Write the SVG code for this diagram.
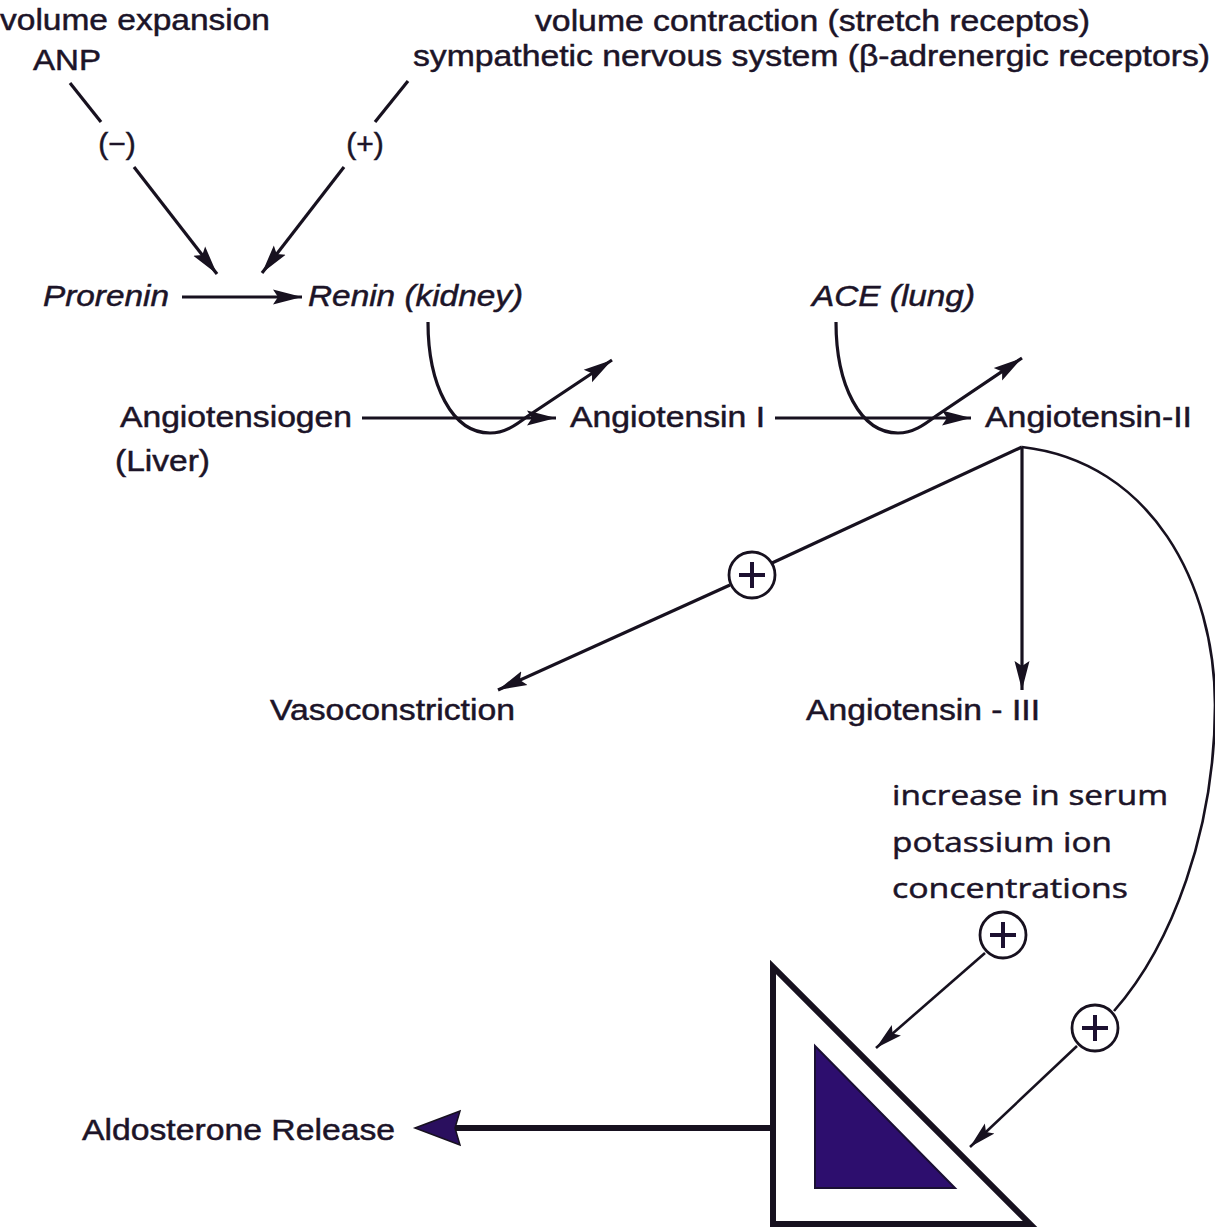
<svg xmlns="http://www.w3.org/2000/svg" width="1215" height="1228" viewBox="0 0 1215 1228">
<style>
.t{font-family:"Liberation Sans",Arial,sans-serif;font-size:30px;fill:#1c1428;stroke:#1c1428;stroke-width:0.5}
.i{font-style:italic}
.o{font-family:"Open Sans","Noto Sans",sans-serif;font-size:28px;fill:#1c1428;stroke:#1c1428;stroke-width:0.5}
.ln{fill:none;stroke:#17111f;stroke-width:3.2}
.thin{fill:none;stroke:#17111f;stroke-width:2.6}
.pc{fill:#fff;stroke:#17111f;stroke-width:2.8}
.pl{stroke:#1c1030;stroke-width:4}
</style>
<defs>
<marker id="ah" markerUnits="userSpaceOnUse" markerWidth="32" markerHeight="18" refX="29" refY="9" orient="auto">
<path d="M0,1.5 L29,9 L0,16.5 L5,9 Z" fill="#17111f"/>
</marker>
<marker id="ahs" markerUnits="userSpaceOnUse" markerWidth="30" markerHeight="18" refX="27" refY="9" orient="auto">
<path d="M0,2 L27,9 L0,16 L5,9 Z" fill="#17111f"/>
</marker>
<g id="plus">
<circle cx="0" cy="0" r="23" class="pc"/>
<line x1="-13" y1="0" x2="13" y2="0" class="pl"/>
<line x1="0" y1="-13" x2="0" y2="13" class="pl"/>
</g>
</defs>
<rect width="1215" height="1228" fill="#fff"/>

<g id="connectors">
<line x1="70" y1="83" x2="101" y2="122" class="ln"/>
<line x1="134" y1="167" x2="217" y2="274" class="ln" marker-end="url(#ah)"/>
<line x1="408" y1="81" x2="375" y2="122" class="ln"/>
<line x1="344" y1="167" x2="262" y2="273" class="ln" marker-end="url(#ah)"/>
<line x1="182" y1="297" x2="302" y2="297" class="ln" marker-end="url(#ah)"/>
<line x1="362" y1="418" x2="556" y2="418" class="ln" marker-end="url(#ah)"/>
<path d="M428,322 C428,385 452,433 490,433 C505,433 516,425 528,416 L612,360" class="ln" marker-end="url(#ah)"/>
<line x1="775" y1="418" x2="971" y2="418" class="ln" marker-end="url(#ah)"/>
<path d="M836,322 C836,385 860,433 898,433 C913,433 924,425 936,416 L1022,358" class="ln" marker-end="url(#ah)"/>
<line x1="1022" y1="447" x2="772" y2="563" class="ln"/>
<line x1="730" y1="585" x2="498" y2="690" class="ln" marker-end="url(#ah)"/>
<line x1="1022" y1="447" x2="1022" y2="690" class="ln" marker-end="url(#ah)"/>
<path d="M1022,447 C1152,462 1215,585 1215,705 C1215,830 1172,945 1114,1011" class="thin"/>
<line x1="1077" y1="1046" x2="970" y2="1147" class="thin" marker-end="url(#ahs)"/>
<line x1="985" y1="953" x2="876" y2="1048" class="thin" marker-end="url(#ahs)"/>
<line x1="773" y1="1128" x2="455" y2="1128" stroke="#17111f" stroke-width="6"/>
<path d="M415,1128 L460,1111 L455,1128 L460,1145 Z" fill="#2a0f5e" stroke="#17111f" stroke-width="1.5"/>
</g>

<g id="volume-expansion"><text class="t" x="0" y="30" textLength="270" lengthAdjust="spacingAndGlyphs">volume expansion</text>
<text class="t" x="33" y="70" textLength="68" lengthAdjust="spacingAndGlyphs">ANP</text></g>
<g id="volume-contraction"><text class="t" x="535" y="31" textLength="555" lengthAdjust="spacingAndGlyphs">volume contraction (stretch receptos)</text>
<text class="t" x="413" y="66" textLength="797" lengthAdjust="spacingAndGlyphs">sympathetic nervous system (β-adrenergic receptors)</text></g>
<g id="minus-label"><text class="t" x="117" y="154" text-anchor="middle" font-size="26">(−)</text></g>
<g id="plus-label"><text class="t" x="365" y="154" text-anchor="middle" font-size="26">(+)</text></g>
<g id="prorenin"><text class="t i" x="43" y="306" textLength="126" lengthAdjust="spacingAndGlyphs">Prorenin</text></g>
<g id="renin"><text class="t i" x="308" y="306" textLength="215" lengthAdjust="spacingAndGlyphs">Renin (kidney)</text></g>
<g id="ace"><text class="t i" x="812" y="306" textLength="163" lengthAdjust="spacingAndGlyphs">ACE (lung)</text></g>
<g id="angiotensiogen"><text class="t" x="120" y="427" textLength="232" lengthAdjust="spacingAndGlyphs">Angiotensiogen</text>
<text class="t" x="115" y="471" textLength="95" lengthAdjust="spacingAndGlyphs">(Liver)</text></g>
<g id="angiotensin-i"><text class="t" x="570" y="427" textLength="195" lengthAdjust="spacingAndGlyphs">Angiotensin I</text></g>
<g id="angiotensin-ii"><text class="t" x="985" y="427" textLength="207" lengthAdjust="spacingAndGlyphs">Angiotensin-II</text></g>
<g id="plus-vaso"><use href="#plus" x="752" y="575"/></g>
<g id="vasoconstriction"><text class="t" x="270" y="720" textLength="245" lengthAdjust="spacingAndGlyphs">Vasoconstriction</text></g>
<g id="angiotensin-iii"><text class="t" x="806" y="720" textLength="234" lengthAdjust="spacingAndGlyphs">Angiotensin - III</text></g>
<g id="potassium"><text class="o" x="892" y="805" textLength="276" lengthAdjust="spacingAndGlyphs">increase in serum</text>
<text class="o" x="892" y="852" textLength="220" lengthAdjust="spacingAndGlyphs">potassium ion</text>
<text class="o" x="892" y="898" textLength="236" lengthAdjust="spacingAndGlyphs">concentrations</text></g>
<g id="plus-potassium"><use href="#plus" x="1003" y="935"/></g>
<g id="plus-angii"><use href="#plus" x="1095" y="1028"/></g>
<g id="adrenal">
<path d="M773,967 L773,1224 L1030,1224 Z" fill="#fff" stroke="#17111f" stroke-width="6" stroke-linejoin="miter"/>
<path d="M815,1046 L815,1188 L955,1188 Z" fill="#2d0e6e" stroke="#1a0f33" stroke-width="2"/>
</g>
<g id="aldosterone"><text class="t" x="82" y="1140" textLength="313" lengthAdjust="spacingAndGlyphs">Aldosterone Release</text></g>
</svg>
